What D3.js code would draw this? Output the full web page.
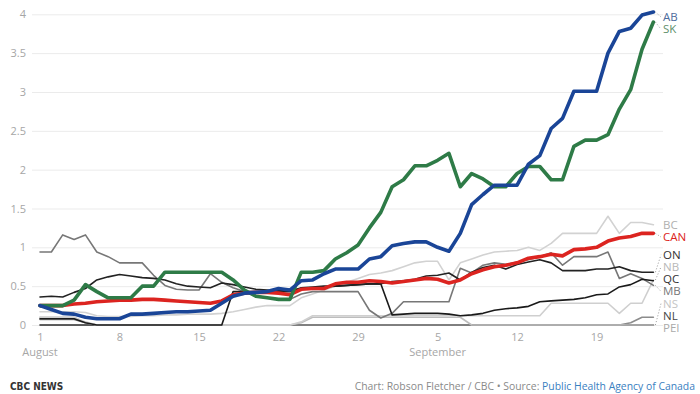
<!DOCTYPE html>
<html>
<head>
<meta charset="utf-8">
<script src="https://cdn.jsdelivr.net/npm/d3@7"></script>
<style>
	body { margin: 0; background: #fff; }
	svg text { font-family: "Open Sans", sans-serif; }
</style>
</head>
<body>
<svg id="chart" width="700" height="394"></svg>
<script>

// one value per day, Aug 1 to Sep 24
var startDate = "2021-08-01";
var endDate = "2021-09-24";

var AB = [0.25,0.2,0.15,0.14,0.1,0.08,0.08,0.08,0.14,0.14,
	0.15,0.16,0.17,0.17,0.18,0.19,0.28,0.37,0.41,0.42,
	0.43,0.47,0.45,0.57,0.58,0.66,0.72,0.72,0.72,0.85,
	0.88,1.02,1.05,1.07,1.07,1.0,0.95,1.18,1.55,1.68,
	1.8,1.8,1.8,2.07,2.18,2.53,2.66,3.01,3.01,3.01,
	3.5,3.78,3.82,3.99,4.03];
var SK = [0.25,0.25,0.25,0.32,0.52,0.43,0.35,0.35,0.35,0.5,
	0.5,0.68,0.68,0.68,0.68,0.68,0.68,0.58,0.45,0.37,
	0.35,0.33,0.33,0.68,0.68,0.7,0.85,0.93,1.03,1.25,
	1.45,1.78,1.87,2.05,2.05,2.12,2.21,1.78,1.95,1.88,
	1.78,1.78,1.95,2.04,2.04,1.87,1.87,2.3,2.38,2.38,
	2.45,2.78,3.03,3.55,3.9];
var CAN = [0.25,0.25,0.25,0.27,0.28,0.3,0.31,0.32,0.32,0.33,
	0.33,0.32,0.31,0.3,0.29,0.28,0.31,0.39,0.41,0.42,
	0.42,0.41,0.39,0.46,0.47,0.47,0.53,0.55,0.55,0.57,
	0.56,0.54,0.56,0.58,0.6,0.59,0.54,0.58,0.66,0.71,
	0.75,0.77,0.8,0.86,0.88,0.91,0.89,0.97,0.98,1.0,
	1.08,1.12,1.14,1.18,1.18];
var BC = [0.17,0.17,0.17,0.17,0.16,0.12,0.11,0.11,0.11,0.12,
	0.12,0.13,0.13,0.14,0.14,0.14,0.15,0.17,0.2,0.23,
	0.25,0.25,0.25,0.35,0.4,0.45,0.5,0.55,0.6,0.65,
	0.67,0.7,0.75,0.8,0.82,0.82,0.58,0.8,0.85,0.9,
	0.94,0.95,0.96,1.0,0.96,1.05,1.18,1.18,1.18,1.18,
	1.4,1.18,1.32,1.32,1.29];
var ON = [0.36,0.37,0.36,0.42,0.47,0.58,0.62,0.65,0.63,0.61,
	0.6,0.58,0.53,0.5,0.49,0.48,0.54,0.52,0.49,0.46,
	0.45,0.43,0.43,0.48,0.49,0.5,0.5,0.51,0.52,0.53,
	0.53,0.56,0.57,0.59,0.63,0.64,0.67,0.58,0.68,0.74,
	0.77,0.72,0.78,0.81,0.84,0.8,0.7,0.7,0.7,0.72,
	0.72,0.75,0.7,0.68,0.68];
var NB = [0.1,0.1,0.1,0.1,0.04,0,0,0,0,0,
	0,0,0,0,0,0,0,0,0,0,
	0,0,0,0.04,0.12,0.12,0.12,0.12,0.12,0.12,
	0.12,0.12,0.12,0.12,0.12,0.12,0.12,0.12,0.12,0.12,
	0.12,0.12,0.12,0.12,0.12,0.28,0.28,0.28,0.28,0.28,
	0.28,0.15,0.28,0.28,0.58];
var QC = [0.08,0.08,0.08,0.08,0.03,0,0,0,0,0,
	0,0,0,0,0,0,0,0.43,0.43,0.43,
	0.43,0.44,0.44,0.47,0.48,0.49,0.5,0.51,0.52,0.53,
	0.53,0.13,0.14,0.15,0.15,0.15,0.14,0.12,0.13,0.15,
	0.19,0.21,0.22,0.24,0.3,0.31,0.32,0.33,0.35,0.39,
	0.4,0.49,0.52,0.59,0.57];
var MB = [0.94,0.94,1.16,1.1,1.16,0.94,0.88,0.8,0.8,0.8,
	0.64,0.51,0.46,0.45,0.45,0.66,0.55,0.48,0.43,0.38,
	0.35,0.33,0.33,0.4,0.43,0.43,0.43,0.43,0.43,0.19,
	0.09,0.15,0.3,0.3,0.3,0.3,0.3,0.73,0.67,0.77,
	0.8,0.78,0.81,0.84,0.88,0.93,0.77,0.88,0.88,0.88,
	0.94,0.6,0.66,0.6,0.51];
var NS = [0.1,0.1,0.1,0.1,0.03,0,0,0,0,0,
	0,0,0,0,0,0,0,0,0,0,
	0,0,0,0.03,0.1,0.1,0.1,0.1,0.1,0.1,
	0.1,0.1,0.1,0.1,0.1,0.1,0.1,0.1,0,0,
	0,0,0,0,0,0,0,0,0,0,
	0,0,0,0,0];
var NL = [0.07,0.07,0.07,0.07,0.03,0,0,0,0,0,
	0,0,0,0,0,0,0,0,0,0,
	0,0,0,0,0,0,0,0,0,0,
	0,0,0,0,0,0,0,0,0,0,
	0,0,0,0,0,0,0,0,0,0,
	0,0,0.03,0.1,0.1];
var PEI = [0,0,0,0,0,0,0,0,0,0,
	0,0,0,0,0,0,0,0,0,0,
	0,0,0,0,0,0,0,0,0,0,
	0,0,0,0,0,0,0,0,0,0,
	0,0,0,0,0,0,0,0,0,0,
	0,0,0,0,0];

var yTicks = [0, 0.5, 1, 1.5, 2, 2.5, 3, 3.5, 4];
var xTicks = ["2021-08-01","2021-08-08","2021-08-15","2021-08-22","2021-08-29","2021-09-05","2021-09-12","2021-09-19"];
var monthTicks = ["2021-08-01","2021-09-05"];
var monthNames = ["August","September"];

var parse = d3.utcParse("%Y-%m-%d");
var days = d3.utcDay.range(parse(startDate), d3.utcDay.offset(parse(endDate), 1));

// drawing order: thin lines first, then CAN, SK, AB on top
var series = [
	{name:"PEI", values:PEI, color:"#2a2a2a", label:"#aaa", w:1.6},
	{name:"NL",  values:NL,  color:"#8c8c8c", label:"#444", w:1.6},
	{name:"NS",  values:NS,  color:"#bdbdbd", label:"#c4c4c4", w:1.6},
	{name:"NB",  values:NB,  color:"#cfcfcf", label:"#b8b8b8", w:1.6},
	{name:"BC",  values:BC,  color:"#d2d2d2", label:"#b0b0b0", w:1.6},
	{name:"MB",  values:MB,  color:"#777777", label:"#777", w:1.6},
	{name:"QC",  values:QC,  color:"#1a1a1a", label:"#333", w:1.6},
	{name:"ON",  values:ON,  color:"#222222", label:"#333", w:1.6},
	{name:"CAN", values:CAN, color:"#dc2420", label:"#dc2420", w:3.6},
	{name:"SK",  values:SK,  color:"#2e7b47", label:"#5e8f6c", w:3.6},
	{name:"AB",  values:AB,  color:"#1a4597", label:"#4d6b9c", w:3.6}
];
var labelOrder = ["AB","SK","BC","CAN","ON","NB","QC","MB","NS","NL","PEI"];

var svg = d3.select("#chart");
var gridLeft = 32, gridRight = 663;

var x = d3.scaleUtc()
	.domain([parse(startDate), parse(endDate)])
	.range([40, 653.4]);
var y = d3.scaleLinear()
	.domain([0, 4])
	.range([325, 14.3]);

// gridlines + y labels
var yAxis = svg.append("g")
	.attr("transform", "translate(" + gridLeft + ",0)")
	.call(d3.axisLeft(y).tickValues(yTicks).tickSize(-(gridRight - gridLeft)).tickPadding(6).tickFormat(function(d){ return String(d); }));
yAxis.select(".domain").remove();
yAxis.selectAll(".tick line").attr("stroke", "#ebebeb").attr("stroke-width", 1);
yAxis.selectAll(".tick text").attr("fill", "#a6a6a6").style("font-size", "11px");

// x labels
var xAxis = svg.append("g")
	.attr("transform", "translate(0,325)")
	.call(d3.axisBottom(x).tickValues(xTicks.map(parse)).tickSize(0).tickPadding(8).tickFormat(d3.utcFormat("%-d")));
xAxis.select(".domain").remove();
xAxis.selectAll(".tick text").attr("fill", "#a6a6a6").style("font-size", "11px");

svg.append("g").selectAll("text")
	.data(monthTicks)
	.join("text")
	.attr("x", function(d){ return x(parse(d)); })
	.attr("y", 352)
	.attr("dy", "0.35em")
	.attr("text-anchor", "middle")
	.attr("fill", "#a6a6a6")
	.style("font-size", "11px")
	.text(function(d, i){ return monthNames[i]; });

// lines
var line = d3.line()
	.x(function(d, i){ return x(days[i]); })
	.y(function(d){ return y(d); });

svg.append("g").selectAll("path")
	.data(series)
	.join("path")
	.attr("d", function(s){ return line(s.values); })
	.attr("fill", "none")
	.attr("stroke", function(s){ return s.color; })
	.attr("stroke-width", function(s){ return s.w; })
	.attr("stroke-linejoin", "round")
	.attr("stroke-linecap", "round");

// end labels, pushed apart
var byName = {};
series.forEach(function(s){ byName[s.name] = s; });
var lastX = x(days[days.length - 1]);
var gap = 12.2, topY = 17, bottomY = 328;
var labels = labelOrder.map(function(n){
	var s = byName[n];
	var ey = y(s.values[s.values.length - 1]);
	return {s: s, ey: ey, ly: ey};
});
for (var i = 0; i < labels.length; i++) {
	var minY = i === 0 ? topY : labels[i-1].ly + gap;
	labels[i].ly = Math.max(labels[i].ly, minY);
}
for (var j = labels.length - 1; j >= 0; j--) {
	var maxY = j === labels.length - 1 ? bottomY : labels[j+1].ly - gap;
	labels[j].ly = Math.min(labels[j].ly, maxY);
}

svg.append("g").selectAll("line")
	.data(labels.filter(function(l){ return Math.abs(l.ly - l.ey) > 3; }))
	.join("line")
	.attr("x1", lastX + 2)
	.attr("y1", function(l){ return l.ey; })
	.attr("x2", gridRight - 2)
	.attr("y2", function(l){ return l.ly; })
	.attr("stroke", "#999")
	.attr("stroke-width", 1)
	.attr("stroke-dasharray", "1,2");

svg.append("g").selectAll("text")
	.data(labels)
	.join("text")
	.attr("x", gridRight)
	.attr("y", function(l){ return l.ly; })
	.attr("dy", "0.35em")
	.attr("fill", function(l){ return l.s.label; })
	.style("font-size", "11.5px")
	.text(function(l){ return l.s.name; });

// footer
svg.append("text")
	.attr("x", 10)
	.attr("y", 390)
	.attr("fill", "#333")
	.style("font-family", "'Liberation Sans Narrow', 'DejaVu Sans Condensed', sans-serif")
	.style("font-size", "10px")
	.style("font-weight", "bold")
	.text("CBC NEWS");

var credit = svg.append("text")
	.attr("x", 695)
	.attr("y", 390)
	.attr("text-anchor", "end")
	.attr("fill", "#8a8a8a")
	.style("font-size", "10.4px");
credit.append("tspan").text("Chart: Robson Fletcher / CBC \u2022 Source: ");
credit.append("tspan").attr("fill", "#3a80bf").text("Public Health Agency of Canada");

</script>
</body>
</html>
